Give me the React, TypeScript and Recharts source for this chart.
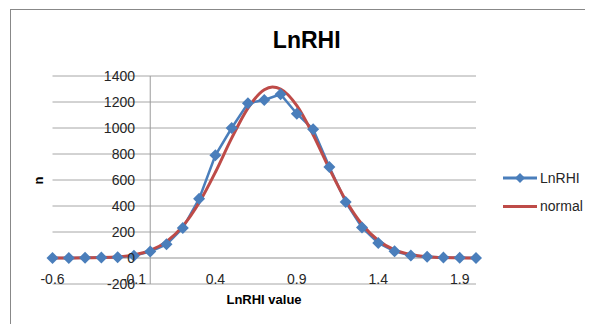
import React from 'react';
import {
  LineChart,
  Line,
  XAxis,
  YAxis,
  CartesianGrid,
  ReferenceLine,
  Legend,
} from 'recharts';

// observed histogram (LnRHI), one point every 0.1
const lnrhiX = [-0.6, -0.5, -0.4, -0.3, -0.2, -0.1, 0, 0.1, 0.2, 0.3, 0.4, 0.5, 0.6, 0.7, 0.8, 0.9, 1.0, 1.1, 1.2, 1.3, 1.4, 1.5, 1.6, 1.7, 1.8, 1.9, 2.0];
const lnrhiN = [0, 0, 2, 3, 6, 18, 50, 105, 230, 455, 790, 1000, 1190, 1215, 1260, 1110, 990, 700, 430, 235, 115, 51, 20, 10, 3, 1, 0];

// fitted normal curve
const normalX = [-0.6, -0.5, -0.4, -0.3, -0.2, -0.1, 0, 0.1, 0.2, 0.3, 0.4, 0.5, 0.6, 0.7, 0.75, 0.8, 0.9, 1.0, 1.1, 1.2, 1.3, 1.4, 1.5, 1.6, 1.7, 1.8, 1.9, 2.0];
const normalN = [0, 0, 1, 3, 9, 24, 58, 126, 245, 425, 660, 922, 1153, 1294, 1315, 1300, 1172, 948, 686, 445, 260, 135, 63, 27, 10, 3, 1, 0];

const xTicks = [-0.6, -0.1, 0.4, 0.9, 1.4, 1.9];
const yTicks = [-200, 0, 200, 400, 600, 800, 1000, 1200, 1400];

const lnrhiData = lnrhiX.map((x, i) => ({ x, n: lnrhiN[i] }));
const normalData = normalX.map((x, i) => ({ x, n: normalN[i] }));

const BLUE = '#4a7ebb';
const RED = '#be4b48';
const FONT = '"Liberation Sans", Arial, sans-serif';

const diamond = (cx: number, cy: number, r: number) =>
  `M${cx},${cy - r}L${cx + r},${cy}L${cx},${cy + r}L${cx - r},${cy}Z`;

const DiamondDot = (props: any) => {
  const { cx, cy, index } = props;
  if (cx == null || cy == null) return <g key={`d-${index}`} />;
  return <path key={`d-${index}`} d={diamond(cx, cy, 6)} fill={BLUE} />;
};

const XTick = ({ x, y, payload }: any) => (
  <text x={x} y={y} textAnchor="middle" fontSize={14} fontFamily={FONT} fill="#262626">
    {payload.value}
  </text>
);

// value labels sit next to the vertical axis at x = 0, not at the plot edge
const YTick = ({ x, y, payload }: any) => (
  <text x={x + 82.5} y={y + 5} textAnchor="end" fontSize={14} fontFamily={FONT} fill="#262626">
    {payload.value}
  </text>
);

const LegendBox = ({ payload }: any) => (
  <svg width={95} height={56}>
    {(payload || []).map((item: any, i: number) => {
      const cy = 13 + i * 28.4;
      return (
        <g key={item.value}>
          <line x1={2} x2={36} y1={cy} y2={cy} stroke={item.color} strokeWidth={3} />
          {item.value === 'LnRHI' && <path d={diamond(19, cy, 5)} fill={BLUE} />}
          <text x={39} y={cy + 5} fontSize={14} fontFamily={FONT} fill="#262626">
            {item.value}
          </text>
        </g>
      );
    })}
  </svg>
);

export default function App() {
  return (
    <div style={{ position: 'relative', width: 585, height: 316, overflow: 'hidden' }}>
      <div
        style={{
          position: 'absolute',
          left: 2,
          top: 1,
          width: 700,
          height: 500,
          borderLeft: '1px solid #888',
          borderTop: '1px solid #888',
        }}
      />
      <div style={{ position: 'absolute', left: 3, top: 2 }}>
        <LineChart width={582} height={314} margin={{ top: 66, right: 117, bottom: 0, left: 0 }}>
          <CartesianGrid vertical={false} stroke="#a6a6a6" />
          <XAxis
            dataKey="x"
            type="number"
            domain={[-0.6, 2.0]}
            ticks={xTicks}
            height={40}
            axisLine={false}
            tickLine={false}
            tickSize={0}
            tickMargin={0}
            tick={<XTick />}
            interval={0}
          />
          <YAxis
            type="number"
            domain={[-200, 1400]}
            ticks={yTicks}
            width={41.5}
            axisLine={false}
            tickLine={false}
            tickSize={0}
            tickMargin={0}
            tick={<YTick />}
            interval={0}
          />
          <ReferenceLine y={0} stroke="#c8c8c8" strokeWidth={2} />
          <ReferenceLine x={0} stroke="#9a9a9a" strokeWidth={1} />
          <Legend
            layout="vertical"
            align="center"
            verticalAlign="middle"
            content={<LegendBox />}
            wrapperStyle={{ left: 490, top: 155, width: 95 }}
          />
          <Line
            data={lnrhiData}
            dataKey="n"
            name="LnRHI"
            type="linear"
            stroke={BLUE}
            strokeWidth={2.5}
            dot={DiamondDot}
            activeDot={false}
            isAnimationActive={false}
          />
          <Line
            data={normalData}
            dataKey="n"
            name="normal"
            type="monotone"
            stroke={RED}
            strokeWidth={3}
            dot={false}
            activeDot={false}
            isAnimationActive={false}
          />
        </LineChart>
      </div>
      <svg
        width={585}
        height={316}
        style={{ position: 'absolute', left: 0, top: 0, pointerEvents: 'none' }}
      >
        <text x={298.7} y={40.3} textAnchor="middle" fontSize={23} fontWeight="bold" fontFamily={FONT} fill="#000">
          LnRHI
        </text>
        <text x={256} y={296} textAnchor="middle" fontSize={13} fontWeight="bold" fontFamily={FONT} fill="#000">
          LnRHI value
        </text>
        <text
          transform="translate(34.5,172.5) rotate(-90)"
          textAnchor="middle"
          fontSize={13}
          fontWeight="bold"
          fontFamily={FONT}
          fill="#000"
        >
          n
        </text>
      </svg>
    </div>
  );
}
